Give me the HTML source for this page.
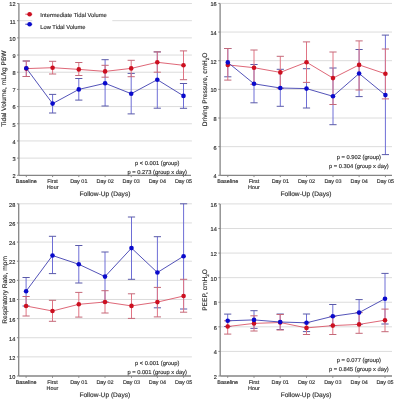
<!DOCTYPE html>
<html><head><meta charset="utf-8"><style>
html,body{margin:0;padding:0;background:#fff;}
svg{display:block;will-change:transform;filter:blur(0.3px);}
text{text-rendering:geometricPrecision;font-family:"Liberation Sans", sans-serif;fill:#2e2e2e;stroke:#2e2e2e;stroke-width:0.15px;}
</style></head><body>
<svg width="395" height="400" viewBox="0 0 395 400">
<rect width="395" height="400" fill="#fff"/>
<line x1="18.9" y1="3.5" x2="191.9" y2="3.5" stroke="#dcdcdc" stroke-width="1"/>
<line x1="18.9" y1="20.68" x2="191.9" y2="20.68" stroke="#dcdcdc" stroke-width="1"/>
<line x1="18.9" y1="37.86" x2="191.9" y2="37.86" stroke="#dcdcdc" stroke-width="1"/>
<line x1="18.9" y1="55.04" x2="191.9" y2="55.04" stroke="#dcdcdc" stroke-width="1"/>
<line x1="18.9" y1="72.22" x2="191.9" y2="72.22" stroke="#dcdcdc" stroke-width="1"/>
<line x1="18.9" y1="89.4" x2="191.9" y2="89.4" stroke="#dcdcdc" stroke-width="1"/>
<line x1="18.9" y1="106.58" x2="191.9" y2="106.58" stroke="#dcdcdc" stroke-width="1"/>
<line x1="18.9" y1="123.76" x2="191.9" y2="123.76" stroke="#dcdcdc" stroke-width="1"/>
<line x1="18.9" y1="140.94" x2="191.9" y2="140.94" stroke="#dcdcdc" stroke-width="1"/>
<line x1="18.9" y1="158.12" x2="191.9" y2="158.12" stroke="#dcdcdc" stroke-width="1"/>
<line x1="17.1" y1="3.5" x2="18.9" y2="3.5" stroke="#858585" stroke-width="1"/>
<text x="15.5" y="6.4" text-anchor="end" font-size="5.6">12</text>
<line x1="17.1" y1="20.68" x2="18.9" y2="20.68" stroke="#858585" stroke-width="1"/>
<text x="15.5" y="23.58" text-anchor="end" font-size="5.6">11</text>
<line x1="17.1" y1="37.86" x2="18.9" y2="37.86" stroke="#858585" stroke-width="1"/>
<text x="15.5" y="40.76" text-anchor="end" font-size="5.6">10</text>
<line x1="17.1" y1="55.04" x2="18.9" y2="55.04" stroke="#858585" stroke-width="1"/>
<text x="15.5" y="57.94" text-anchor="end" font-size="5.6">9</text>
<line x1="17.1" y1="72.22" x2="18.9" y2="72.22" stroke="#858585" stroke-width="1"/>
<text x="15.5" y="75.12" text-anchor="end" font-size="5.6">8</text>
<line x1="17.1" y1="89.4" x2="18.9" y2="89.4" stroke="#858585" stroke-width="1"/>
<text x="15.5" y="92.3" text-anchor="end" font-size="5.6">7</text>
<line x1="17.1" y1="106.58" x2="18.9" y2="106.58" stroke="#858585" stroke-width="1"/>
<text x="15.5" y="109.48" text-anchor="end" font-size="5.6">6</text>
<line x1="17.1" y1="123.76" x2="18.9" y2="123.76" stroke="#858585" stroke-width="1"/>
<text x="15.5" y="126.66" text-anchor="end" font-size="5.6">5</text>
<line x1="17.1" y1="140.94" x2="18.9" y2="140.94" stroke="#858585" stroke-width="1"/>
<text x="15.5" y="143.84" text-anchor="end" font-size="5.6">4</text>
<line x1="17.1" y1="158.12" x2="18.9" y2="158.12" stroke="#858585" stroke-width="1"/>
<text x="15.5" y="161.02" text-anchor="end" font-size="5.6">3</text>
<line x1="17.1" y1="175.3" x2="18.9" y2="175.3" stroke="#858585" stroke-width="1"/>
<text x="15.5" y="178.2" text-anchor="end" font-size="5.6">2</text>
<line x1="18.9" y1="3.5" x2="18.9" y2="175.3" stroke="#858585" stroke-width="1.3"/>
<line x1="18.9" y1="175.3" x2="191" y2="175.3" stroke="#858585" stroke-width="1.3"/>
<line x1="26.3" y1="175.3" x2="26.3" y2="177.1" stroke="#858585" stroke-width="1"/>
<text x="26.3" y="183.2" text-anchor="middle" font-size="5.45">Baseline</text>
<line x1="52.6" y1="175.3" x2="52.6" y2="177.1" stroke="#858585" stroke-width="1"/>
<text x="52.6" y="183.2" text-anchor="middle" font-size="5.45">First</text>
<text x="52.6" y="189.1" text-anchor="middle" font-size="5.45">Hour</text>
<line x1="78.8" y1="175.3" x2="78.8" y2="177.1" stroke="#858585" stroke-width="1"/>
<text x="78.8" y="183.2" text-anchor="middle" font-size="5.45">Day 01</text>
<line x1="105.1" y1="175.3" x2="105.1" y2="177.1" stroke="#858585" stroke-width="1"/>
<text x="105.1" y="183.2" text-anchor="middle" font-size="5.45">Day 02</text>
<line x1="131.2" y1="175.3" x2="131.2" y2="177.1" stroke="#858585" stroke-width="1"/>
<text x="131.2" y="183.2" text-anchor="middle" font-size="5.45">Day 03</text>
<line x1="157.3" y1="175.3" x2="157.3" y2="177.1" stroke="#858585" stroke-width="1"/>
<text x="157.3" y="183.2" text-anchor="middle" font-size="5.45">Day 04</text>
<line x1="183.5" y1="175.3" x2="183.5" y2="177.1" stroke="#858585" stroke-width="1"/>
<text x="183.5" y="183.2" text-anchor="middle" font-size="5.45">Day 05</text>
<text x="104.95" y="196.4" text-anchor="middle" font-size="6.6">Follow-Up (Days)</text>
<text transform="translate(5.9,88.6) rotate(-90)" x="0" y="0" text-anchor="middle" font-size="6.6">Tidal Volume, mL/kg PBW</text>
<text x="157.2" y="165.3" text-anchor="middle" font-size="5.75">p &lt; 0.001 (group)</text>
<text x="157.2" y="173.8" text-anchor="middle" font-size="5.75">p = 0.273 (group x day)</text>
<rect x="32.3" y="8" width="80" height="24" fill="#fff"/>
<line x1="25.3" y1="14.2" x2="32.3" y2="14.2" stroke="#da5668" stroke-width="1"/>
<circle cx="29.6" cy="14.2" r="2.3" fill="#cc1020"/>
<text x="40.3" y="17.3" font-size="5.75">Intermediate Tidal Volume</text>
<line x1="25.3" y1="24.2" x2="32.3" y2="24.2" stroke="#4040b0" stroke-width="1"/>
<circle cx="29.6" cy="24.2" r="2.3" fill="#0a0acc"/>
<text x="40.3" y="28.8" font-size="5.75">Low Tidal Volume</text>
<path d="M26.3 61V76.5" stroke="#6e6ed6" stroke-width="1.0" fill="none"/>
<path d="M22.7 61H29.9M22.7 76.5H29.9" stroke="#5a5aa8" stroke-width="1.0" fill="none"/>
<path d="M52.6 94.4V113" stroke="#6e6ed6" stroke-width="1.0" fill="none"/>
<path d="M49 94.4H56.2M49 113H56.2" stroke="#5a5aa8" stroke-width="1.0" fill="none"/>
<path d="M78.8 78.5V100.1" stroke="#6e6ed6" stroke-width="1.0" fill="none"/>
<path d="M75.2 78.5H82.4M75.2 100.1H82.4" stroke="#5a5aa8" stroke-width="1.0" fill="none"/>
<path d="M105.1 59.7V106" stroke="#6e6ed6" stroke-width="1.0" fill="none"/>
<path d="M101.5 59.7H108.7M101.5 106H108.7" stroke="#5a5aa8" stroke-width="1.0" fill="none"/>
<path d="M131.2 73.4V113.9" stroke="#6e6ed6" stroke-width="1.0" fill="none"/>
<path d="M127.6 73.4H134.8M127.6 113.9H134.8" stroke="#5a5aa8" stroke-width="1.0" fill="none"/>
<path d="M157.3 51.9V108.2" stroke="#6e6ed6" stroke-width="1.0" fill="none"/>
<path d="M153.7 51.9H160.9M153.7 108.2H160.9" stroke="#5a5aa8" stroke-width="1.0" fill="none"/>
<path d="M183.5 83.5V108.3" stroke="#6e6ed6" stroke-width="1.0" fill="none"/>
<path d="M179.9 83.5H187.1M179.9 108.3H187.1" stroke="#5a5aa8" stroke-width="1.0" fill="none"/>
<path d="M26.3 61V76.5" stroke="#e07484" stroke-width="1.0" fill="none"/>
<path d="M22.7 61H29.9M22.7 76.5H29.9" stroke="#c46878" stroke-width="1.0" fill="none"/>
<path d="M52.6 61.3V74" stroke="#e07484" stroke-width="1.0" fill="none"/>
<path d="M49 61.3H56.2M49 74H56.2" stroke="#c46878" stroke-width="1.0" fill="none"/>
<path d="M78.8 62.5V75.5" stroke="#e07484" stroke-width="1.0" fill="none"/>
<path d="M75.2 62.5H82.4M75.2 75.5H82.4" stroke="#c46878" stroke-width="1.0" fill="none"/>
<path d="M105.1 65.3V77.2" stroke="#e07484" stroke-width="1.0" fill="none"/>
<path d="M101.5 65.3H108.7M101.5 77.2H108.7" stroke="#c46878" stroke-width="1.0" fill="none"/>
<path d="M131.2 60.3V76.7" stroke="#e07484" stroke-width="1.0" fill="none"/>
<path d="M127.6 60.3H134.8M127.6 76.7H134.8" stroke="#c46878" stroke-width="1.0" fill="none"/>
<path d="M157.3 51.9V72.2" stroke="#e07484" stroke-width="1.0" fill="none"/>
<path d="M153.7 51.9H160.9M153.7 72.2H160.9" stroke="#c46878" stroke-width="1.0" fill="none"/>
<path d="M183.5 50.9V79.7" stroke="#e07484" stroke-width="1.0" fill="none"/>
<path d="M179.9 50.9H187.1M179.9 79.7H187.1" stroke="#c46878" stroke-width="1.0" fill="none"/>
<polyline points="26.3,68.6 52.6,67.7 78.8,69.4 105.1,71.4 131.2,68.4 157.3,62.3 183.5,65.3" stroke="#da5668" stroke-width="0.9" fill="none"/>
<polyline points="26.3,68.2 52.6,103.6 78.8,89.4 105.1,83.3 131.2,93.7 157.3,79.7 183.5,95.9" stroke="#4040b0" stroke-width="0.9" fill="none"/>
<circle cx="26.3" cy="68.6" r="2.3" fill="#cc1020"/>
<circle cx="52.6" cy="67.7" r="2.3" fill="#cc1020"/>
<circle cx="78.8" cy="69.4" r="2.3" fill="#cc1020"/>
<circle cx="105.1" cy="71.4" r="2.3" fill="#cc1020"/>
<circle cx="131.2" cy="68.4" r="2.3" fill="#cc1020"/>
<circle cx="157.3" cy="62.3" r="2.3" fill="#cc1020"/>
<circle cx="183.5" cy="65.3" r="2.3" fill="#cc1020"/>
<circle cx="26.3" cy="68.2" r="2.3" fill="#0a0acc"/>
<circle cx="52.6" cy="103.6" r="2.3" fill="#0a0acc"/>
<circle cx="78.8" cy="89.4" r="2.3" fill="#0a0acc"/>
<circle cx="105.1" cy="83.3" r="2.3" fill="#0a0acc"/>
<circle cx="131.2" cy="93.7" r="2.3" fill="#0a0acc"/>
<circle cx="157.3" cy="79.7" r="2.3" fill="#0a0acc"/>
<circle cx="183.5" cy="95.9" r="2.3" fill="#0a0acc"/>
<line x1="220.1" y1="3.4" x2="392" y2="3.4" stroke="#dcdcdc" stroke-width="1"/>
<line x1="220.1" y1="32.05" x2="392" y2="32.05" stroke="#dcdcdc" stroke-width="1"/>
<line x1="220.1" y1="60.7" x2="392" y2="60.7" stroke="#dcdcdc" stroke-width="1"/>
<line x1="220.1" y1="89.35" x2="392" y2="89.35" stroke="#dcdcdc" stroke-width="1"/>
<line x1="220.1" y1="118" x2="392" y2="118" stroke="#dcdcdc" stroke-width="1"/>
<line x1="220.1" y1="146.65" x2="392" y2="146.65" stroke="#dcdcdc" stroke-width="1"/>
<line x1="218.3" y1="3.4" x2="220.1" y2="3.4" stroke="#858585" stroke-width="1"/>
<text x="216.7" y="6.3" text-anchor="end" font-size="5.6">16</text>
<line x1="218.3" y1="32.05" x2="220.1" y2="32.05" stroke="#858585" stroke-width="1"/>
<text x="216.7" y="34.95" text-anchor="end" font-size="5.6">14</text>
<line x1="218.3" y1="60.7" x2="220.1" y2="60.7" stroke="#858585" stroke-width="1"/>
<text x="216.7" y="63.6" text-anchor="end" font-size="5.6">12</text>
<line x1="218.3" y1="89.35" x2="220.1" y2="89.35" stroke="#858585" stroke-width="1"/>
<text x="216.7" y="92.25" text-anchor="end" font-size="5.6">10</text>
<line x1="218.3" y1="118" x2="220.1" y2="118" stroke="#858585" stroke-width="1"/>
<text x="216.7" y="120.9" text-anchor="end" font-size="5.6">8</text>
<line x1="218.3" y1="146.65" x2="220.1" y2="146.65" stroke="#858585" stroke-width="1"/>
<text x="216.7" y="149.55" text-anchor="end" font-size="5.6">6</text>
<line x1="218.3" y1="175.3" x2="220.1" y2="175.3" stroke="#858585" stroke-width="1"/>
<text x="216.7" y="178.2" text-anchor="end" font-size="5.6">4</text>
<line x1="220.1" y1="3.4" x2="220.1" y2="175.3" stroke="#858585" stroke-width="1.3"/>
<line x1="220.1" y1="175.3" x2="392" y2="175.3" stroke="#858585" stroke-width="1.3"/>
<line x1="227.8" y1="175.3" x2="227.8" y2="177.1" stroke="#858585" stroke-width="1"/>
<text x="227.8" y="183.2" text-anchor="middle" font-size="5.45">Baseline</text>
<line x1="254" y1="175.3" x2="254" y2="177.1" stroke="#858585" stroke-width="1"/>
<text x="254" y="183.2" text-anchor="middle" font-size="5.45">First</text>
<text x="254" y="189.1" text-anchor="middle" font-size="5.45">Hour</text>
<line x1="280.3" y1="175.3" x2="280.3" y2="177.1" stroke="#858585" stroke-width="1"/>
<text x="280.3" y="183.2" text-anchor="middle" font-size="5.45">Day 01</text>
<line x1="306.5" y1="175.3" x2="306.5" y2="177.1" stroke="#858585" stroke-width="1"/>
<text x="306.5" y="183.2" text-anchor="middle" font-size="5.45">Day 02</text>
<line x1="333" y1="175.3" x2="333" y2="177.1" stroke="#858585" stroke-width="1"/>
<text x="333" y="183.2" text-anchor="middle" font-size="5.45">Day 03</text>
<line x1="359.1" y1="175.3" x2="359.1" y2="177.1" stroke="#858585" stroke-width="1"/>
<text x="359.1" y="183.2" text-anchor="middle" font-size="5.45">Day 04</text>
<line x1="385.4" y1="175.3" x2="385.4" y2="177.1" stroke="#858585" stroke-width="1"/>
<text x="385.4" y="183.2" text-anchor="middle" font-size="5.45">Day 05</text>
<text x="306.05" y="196.4" text-anchor="middle" font-size="6.6">Follow-Up (Days)</text>
<text transform="translate(207.2,89.35) rotate(-90)" x="0" y="0" text-anchor="middle" font-size="6.6">Driving Pressure, cmH<tspan dy="1.3" font-size="4.6">2</tspan><tspan dy="-1.3">O</tspan></text>
<text x="358.9" y="159.3" text-anchor="middle" font-size="5.75">p = 0.902 (group)</text>
<text x="358.9" y="168" text-anchor="middle" font-size="5.75">p = 0.304 (group x day)</text>
<path d="M227.8 48.5V76.8" stroke="#6e6ed6" stroke-width="1.0" fill="none"/>
<path d="M224.2 48.5H231.4M224.2 76.8H231.4" stroke="#5a5aa8" stroke-width="1.0" fill="none"/>
<path d="M254 64.5V102.8" stroke="#6e6ed6" stroke-width="1.0" fill="none"/>
<path d="M250.4 64.5H257.6M250.4 102.8H257.6" stroke="#5a5aa8" stroke-width="1.0" fill="none"/>
<path d="M280.3 69.3V106.3" stroke="#6e6ed6" stroke-width="1.0" fill="none"/>
<path d="M276.7 69.3H283.9M276.7 106.3H283.9" stroke="#5a5aa8" stroke-width="1.0" fill="none"/>
<path d="M306.5 68.7V108" stroke="#6e6ed6" stroke-width="1.0" fill="none"/>
<path d="M302.9 68.7H310.1M302.9 108H310.1" stroke="#5a5aa8" stroke-width="1.0" fill="none"/>
<path d="M333 68V124.7" stroke="#6e6ed6" stroke-width="1.0" fill="none"/>
<path d="M329.4 68H336.6M329.4 124.7H336.6" stroke="#5a5aa8" stroke-width="1.0" fill="none"/>
<path d="M359.1 49.5V96.6" stroke="#6e6ed6" stroke-width="1.0" fill="none"/>
<path d="M355.5 49.5H362.7M355.5 96.6H362.7" stroke="#5a5aa8" stroke-width="1.0" fill="none"/>
<path d="M385.4 35.1V154.6" stroke="#6e6ed6" stroke-width="1.0" fill="none"/>
<path d="M381.8 35.1H389M381.8 154.6H389" stroke="#5a5aa8" stroke-width="1.0" fill="none"/>
<path d="M227.8 48.5V80.1" stroke="#e07484" stroke-width="1.0" fill="none"/>
<path d="M224.2 48.5H231.4M224.2 80.1H231.4" stroke="#c46878" stroke-width="1.0" fill="none"/>
<path d="M254 50V84.3" stroke="#e07484" stroke-width="1.0" fill="none"/>
<path d="M250.4 50H257.6M250.4 84.3H257.6" stroke="#c46878" stroke-width="1.0" fill="none"/>
<path d="M280.3 56.3V88.3" stroke="#e07484" stroke-width="1.0" fill="none"/>
<path d="M276.7 56.3H283.9M276.7 88.3H283.9" stroke="#c46878" stroke-width="1.0" fill="none"/>
<path d="M306.5 41.9V82.4" stroke="#e07484" stroke-width="1.0" fill="none"/>
<path d="M302.9 41.9H310.1M302.9 82.4H310.1" stroke="#c46878" stroke-width="1.0" fill="none"/>
<path d="M333 52V104.5" stroke="#e07484" stroke-width="1.0" fill="none"/>
<path d="M329.4 52H336.6M329.4 104.5H336.6" stroke="#c46878" stroke-width="1.0" fill="none"/>
<path d="M359.1 40.9V90" stroke="#e07484" stroke-width="1.0" fill="none"/>
<path d="M355.5 40.9H362.7M355.5 90H362.7" stroke="#c46878" stroke-width="1.0" fill="none"/>
<path d="M385.4 49V98.9" stroke="#e07484" stroke-width="1.0" fill="none"/>
<path d="M381.8 49H389M381.8 98.9H389" stroke="#c46878" stroke-width="1.0" fill="none"/>
<polyline points="227.8,64.9 254,67.7 280.3,72.4 306.5,62.2 333,78.1 359.1,64.9 385.4,73.8" stroke="#da5668" stroke-width="0.9" fill="none"/>
<polyline points="227.8,62.4 254,83.8 280.3,88 306.5,88.6 333,96.3 359.1,73.5 385.4,95.1" stroke="#4040b0" stroke-width="0.9" fill="none"/>
<circle cx="227.8" cy="64.9" r="2.3" fill="#cc1020"/>
<circle cx="254" cy="67.7" r="2.3" fill="#cc1020"/>
<circle cx="280.3" cy="72.4" r="2.3" fill="#cc1020"/>
<circle cx="306.5" cy="62.2" r="2.3" fill="#cc1020"/>
<circle cx="333" cy="78.1" r="2.3" fill="#cc1020"/>
<circle cx="359.1" cy="64.9" r="2.3" fill="#cc1020"/>
<circle cx="385.4" cy="73.8" r="2.3" fill="#cc1020"/>
<circle cx="227.8" cy="62.4" r="2.3" fill="#0a0acc"/>
<circle cx="254" cy="83.8" r="2.3" fill="#0a0acc"/>
<circle cx="280.3" cy="88" r="2.3" fill="#0a0acc"/>
<circle cx="306.5" cy="88.6" r="2.3" fill="#0a0acc"/>
<circle cx="333" cy="96.3" r="2.3" fill="#0a0acc"/>
<circle cx="359.1" cy="73.5" r="2.3" fill="#0a0acc"/>
<circle cx="385.4" cy="95.1" r="2.3" fill="#0a0acc"/>
<line x1="18.7" y1="203.8" x2="191.9" y2="203.8" stroke="#dcdcdc" stroke-width="1"/>
<line x1="18.7" y1="222.93" x2="191.9" y2="222.93" stroke="#dcdcdc" stroke-width="1"/>
<line x1="18.7" y1="242.07" x2="191.9" y2="242.07" stroke="#dcdcdc" stroke-width="1"/>
<line x1="18.7" y1="261.2" x2="191.9" y2="261.2" stroke="#dcdcdc" stroke-width="1"/>
<line x1="18.7" y1="280.33" x2="191.9" y2="280.33" stroke="#dcdcdc" stroke-width="1"/>
<line x1="18.7" y1="299.47" x2="191.9" y2="299.47" stroke="#dcdcdc" stroke-width="1"/>
<line x1="18.7" y1="318.6" x2="191.9" y2="318.6" stroke="#dcdcdc" stroke-width="1"/>
<line x1="18.7" y1="337.73" x2="191.9" y2="337.73" stroke="#dcdcdc" stroke-width="1"/>
<line x1="18.7" y1="356.87" x2="191.9" y2="356.87" stroke="#dcdcdc" stroke-width="1"/>
<line x1="16.9" y1="203.8" x2="18.7" y2="203.8" stroke="#858585" stroke-width="1"/>
<text x="15.3" y="206.7" text-anchor="end" font-size="5.6">28</text>
<line x1="16.9" y1="222.93" x2="18.7" y2="222.93" stroke="#858585" stroke-width="1"/>
<text x="15.3" y="225.83" text-anchor="end" font-size="5.6">26</text>
<line x1="16.9" y1="242.07" x2="18.7" y2="242.07" stroke="#858585" stroke-width="1"/>
<text x="15.3" y="244.97" text-anchor="end" font-size="5.6">24</text>
<line x1="16.9" y1="261.2" x2="18.7" y2="261.2" stroke="#858585" stroke-width="1"/>
<text x="15.3" y="264.1" text-anchor="end" font-size="5.6">22</text>
<line x1="16.9" y1="280.33" x2="18.7" y2="280.33" stroke="#858585" stroke-width="1"/>
<text x="15.3" y="283.23" text-anchor="end" font-size="5.6">20</text>
<line x1="16.9" y1="299.47" x2="18.7" y2="299.47" stroke="#858585" stroke-width="1"/>
<text x="15.3" y="302.37" text-anchor="end" font-size="5.6">18</text>
<line x1="16.9" y1="318.6" x2="18.7" y2="318.6" stroke="#858585" stroke-width="1"/>
<text x="15.3" y="321.5" text-anchor="end" font-size="5.6">16</text>
<line x1="16.9" y1="337.73" x2="18.7" y2="337.73" stroke="#858585" stroke-width="1"/>
<text x="15.3" y="340.63" text-anchor="end" font-size="5.6">14</text>
<line x1="16.9" y1="356.87" x2="18.7" y2="356.87" stroke="#858585" stroke-width="1"/>
<text x="15.3" y="359.77" text-anchor="end" font-size="5.6">12</text>
<line x1="16.9" y1="376" x2="18.7" y2="376" stroke="#858585" stroke-width="1"/>
<text x="15.3" y="378.9" text-anchor="end" font-size="5.6">10</text>
<line x1="18.7" y1="203.8" x2="18.7" y2="376" stroke="#858585" stroke-width="1.3"/>
<line x1="18.7" y1="376" x2="191" y2="376" stroke="#858585" stroke-width="1.3"/>
<line x1="26.1" y1="376" x2="26.1" y2="377.8" stroke="#858585" stroke-width="1"/>
<text x="26.1" y="383.9" text-anchor="middle" font-size="5.45">Baseline</text>
<line x1="52.5" y1="376" x2="52.5" y2="377.8" stroke="#858585" stroke-width="1"/>
<text x="52.5" y="383.9" text-anchor="middle" font-size="5.45">First</text>
<text x="52.5" y="389.8" text-anchor="middle" font-size="5.45">Hour</text>
<line x1="78.8" y1="376" x2="78.8" y2="377.8" stroke="#858585" stroke-width="1"/>
<text x="78.8" y="383.9" text-anchor="middle" font-size="5.45">Day 01</text>
<line x1="105" y1="376" x2="105" y2="377.8" stroke="#858585" stroke-width="1"/>
<text x="105" y="383.9" text-anchor="middle" font-size="5.45">Day 02</text>
<line x1="131.5" y1="376" x2="131.5" y2="377.8" stroke="#858585" stroke-width="1"/>
<text x="131.5" y="383.9" text-anchor="middle" font-size="5.45">Day 03</text>
<line x1="157.4" y1="376" x2="157.4" y2="377.8" stroke="#858585" stroke-width="1"/>
<text x="157.4" y="383.9" text-anchor="middle" font-size="5.45">Day 04</text>
<line x1="183.6" y1="376" x2="183.6" y2="377.8" stroke="#858585" stroke-width="1"/>
<text x="183.6" y="383.9" text-anchor="middle" font-size="5.45">Day 05</text>
<text x="104.85" y="397.1" text-anchor="middle" font-size="6.6">Follow-Up (Days)</text>
<text transform="translate(7.2,289.9) rotate(-90)" x="0" y="0" text-anchor="middle" font-size="6.6">Respiratory Rate, mpm</text>
<text x="157.2" y="365" text-anchor="middle" font-size="5.75">p &lt; 0.001 (group)</text>
<text x="157.2" y="373.7" text-anchor="middle" font-size="5.75">p = 0.001 (group x day)</text>
<path d="M26.1 277.5V306" stroke="#6e6ed6" stroke-width="1.0" fill="none"/>
<path d="M22.5 277.5H29.7M22.5 306H29.7" stroke="#5a5aa8" stroke-width="1.0" fill="none"/>
<path d="M52.5 236.3V273.6" stroke="#6e6ed6" stroke-width="1.0" fill="none"/>
<path d="M48.9 236.3H56.1M48.9 273.6H56.1" stroke="#5a5aa8" stroke-width="1.0" fill="none"/>
<path d="M78.8 245.5V283" stroke="#6e6ed6" stroke-width="1.0" fill="none"/>
<path d="M75.2 245.5H82.4M75.2 283H82.4" stroke="#5a5aa8" stroke-width="1.0" fill="none"/>
<path d="M105 252V302" stroke="#6e6ed6" stroke-width="1.0" fill="none"/>
<path d="M101.4 252H108.6M101.4 302H108.6" stroke="#5a5aa8" stroke-width="1.0" fill="none"/>
<path d="M131.5 217V279.3" stroke="#6e6ed6" stroke-width="1.0" fill="none"/>
<path d="M127.9 217H135.1M127.9 279.3H135.1" stroke="#5a5aa8" stroke-width="1.0" fill="none"/>
<path d="M157.4 236.7V307.8" stroke="#6e6ed6" stroke-width="1.0" fill="none"/>
<path d="M153.8 236.7H161M153.8 307.8H161" stroke="#5a5aa8" stroke-width="1.0" fill="none"/>
<path d="M183.6 203.8V309" stroke="#6e6ed6" stroke-width="1.0" fill="none"/>
<path d="M180 203.8H187.2M180 309H187.2" stroke="#5a5aa8" stroke-width="1.0" fill="none"/>
<path d="M26.1 296.5V316" stroke="#e07484" stroke-width="1.0" fill="none"/>
<path d="M22.5 296.5H29.7M22.5 316H29.7" stroke="#c46878" stroke-width="1.0" fill="none"/>
<path d="M52.5 300.3V321.3" stroke="#e07484" stroke-width="1.0" fill="none"/>
<path d="M48.9 300.3H56.1M48.9 321.3H56.1" stroke="#c46878" stroke-width="1.0" fill="none"/>
<path d="M78.8 292.4V317.1" stroke="#e07484" stroke-width="1.0" fill="none"/>
<path d="M75.2 292.4H82.4M75.2 317.1H82.4" stroke="#c46878" stroke-width="1.0" fill="none"/>
<path d="M105 290.7V313" stroke="#e07484" stroke-width="1.0" fill="none"/>
<path d="M101.4 290.7H108.6M101.4 313H108.6" stroke="#c46878" stroke-width="1.0" fill="none"/>
<path d="M131.5 293.8V318.4" stroke="#e07484" stroke-width="1.0" fill="none"/>
<path d="M127.9 293.8H135.1M127.9 318.4H135.1" stroke="#c46878" stroke-width="1.0" fill="none"/>
<path d="M157.4 287.4V316.9" stroke="#e07484" stroke-width="1.0" fill="none"/>
<path d="M153.8 287.4H161M153.8 316.9H161" stroke="#c46878" stroke-width="1.0" fill="none"/>
<path d="M183.6 279.3V312.2" stroke="#e07484" stroke-width="1.0" fill="none"/>
<path d="M180 279.3H187.2M180 312.2H187.2" stroke="#c46878" stroke-width="1.0" fill="none"/>
<polyline points="26.1,306 52.5,311 78.8,304.3 105,302 131.5,305.9 157.4,302.1 183.6,296" stroke="#da5668" stroke-width="0.9" fill="none"/>
<polyline points="26.1,291.2 52.5,255.5 78.8,264.3 105,276.6 131.5,248.1 157.4,272.5 183.6,256.2" stroke="#4040b0" stroke-width="0.9" fill="none"/>
<circle cx="26.1" cy="306" r="2.3" fill="#cc1020"/>
<circle cx="52.5" cy="311" r="2.3" fill="#cc1020"/>
<circle cx="78.8" cy="304.3" r="2.3" fill="#cc1020"/>
<circle cx="105" cy="302" r="2.3" fill="#cc1020"/>
<circle cx="131.5" cy="305.9" r="2.3" fill="#cc1020"/>
<circle cx="157.4" cy="302.1" r="2.3" fill="#cc1020"/>
<circle cx="183.6" cy="296" r="2.3" fill="#cc1020"/>
<circle cx="26.1" cy="291.2" r="2.3" fill="#0a0acc"/>
<circle cx="52.5" cy="255.5" r="2.3" fill="#0a0acc"/>
<circle cx="78.8" cy="264.3" r="2.3" fill="#0a0acc"/>
<circle cx="105" cy="276.6" r="2.3" fill="#0a0acc"/>
<circle cx="131.5" cy="248.1" r="2.3" fill="#0a0acc"/>
<circle cx="157.4" cy="272.5" r="2.3" fill="#0a0acc"/>
<circle cx="183.6" cy="256.2" r="2.3" fill="#0a0acc"/>
<line x1="220.2" y1="203.9" x2="392" y2="203.9" stroke="#dcdcdc" stroke-width="1"/>
<line x1="220.2" y1="228.49" x2="392" y2="228.49" stroke="#dcdcdc" stroke-width="1"/>
<line x1="220.2" y1="253.07" x2="392" y2="253.07" stroke="#dcdcdc" stroke-width="1"/>
<line x1="220.2" y1="277.66" x2="392" y2="277.66" stroke="#dcdcdc" stroke-width="1"/>
<line x1="220.2" y1="302.24" x2="392" y2="302.24" stroke="#dcdcdc" stroke-width="1"/>
<line x1="220.2" y1="326.83" x2="392" y2="326.83" stroke="#dcdcdc" stroke-width="1"/>
<line x1="220.2" y1="351.41" x2="392" y2="351.41" stroke="#dcdcdc" stroke-width="1"/>
<line x1="218.4" y1="203.9" x2="220.2" y2="203.9" stroke="#858585" stroke-width="1"/>
<text x="216.8" y="206.8" text-anchor="end" font-size="5.6">16</text>
<line x1="218.4" y1="228.49" x2="220.2" y2="228.49" stroke="#858585" stroke-width="1"/>
<text x="216.8" y="231.39" text-anchor="end" font-size="5.6">14</text>
<line x1="218.4" y1="253.07" x2="220.2" y2="253.07" stroke="#858585" stroke-width="1"/>
<text x="216.8" y="255.97" text-anchor="end" font-size="5.6">12</text>
<line x1="218.4" y1="277.66" x2="220.2" y2="277.66" stroke="#858585" stroke-width="1"/>
<text x="216.8" y="280.56" text-anchor="end" font-size="5.6">10</text>
<line x1="218.4" y1="302.24" x2="220.2" y2="302.24" stroke="#858585" stroke-width="1"/>
<text x="216.8" y="305.14" text-anchor="end" font-size="5.6">8</text>
<line x1="218.4" y1="326.83" x2="220.2" y2="326.83" stroke="#858585" stroke-width="1"/>
<text x="216.8" y="329.73" text-anchor="end" font-size="5.6">6</text>
<line x1="218.4" y1="351.41" x2="220.2" y2="351.41" stroke="#858585" stroke-width="1"/>
<text x="216.8" y="354.31" text-anchor="end" font-size="5.6">4</text>
<line x1="218.4" y1="376" x2="220.2" y2="376" stroke="#858585" stroke-width="1"/>
<text x="216.8" y="378.9" text-anchor="end" font-size="5.6">2</text>
<line x1="220.2" y1="203.9" x2="220.2" y2="376" stroke="#858585" stroke-width="1.3"/>
<line x1="220.2" y1="376" x2="392" y2="376" stroke="#858585" stroke-width="1.3"/>
<line x1="227.7" y1="376" x2="227.7" y2="377.8" stroke="#858585" stroke-width="1"/>
<text x="227.7" y="383.9" text-anchor="middle" font-size="5.45">Baseline</text>
<line x1="254" y1="376" x2="254" y2="377.8" stroke="#858585" stroke-width="1"/>
<text x="254" y="383.9" text-anchor="middle" font-size="5.45">First</text>
<text x="254" y="389.8" text-anchor="middle" font-size="5.45">Hour</text>
<line x1="280.2" y1="376" x2="280.2" y2="377.8" stroke="#858585" stroke-width="1"/>
<text x="280.2" y="383.9" text-anchor="middle" font-size="5.45">Day 01</text>
<line x1="306.5" y1="376" x2="306.5" y2="377.8" stroke="#858585" stroke-width="1"/>
<text x="306.5" y="383.9" text-anchor="middle" font-size="5.45">Day 02</text>
<line x1="332.8" y1="376" x2="332.8" y2="377.8" stroke="#858585" stroke-width="1"/>
<text x="332.8" y="383.9" text-anchor="middle" font-size="5.45">Day 03</text>
<line x1="359.1" y1="376" x2="359.1" y2="377.8" stroke="#858585" stroke-width="1"/>
<text x="359.1" y="383.9" text-anchor="middle" font-size="5.45">Day 04</text>
<line x1="385" y1="376" x2="385" y2="377.8" stroke="#858585" stroke-width="1"/>
<text x="385" y="383.9" text-anchor="middle" font-size="5.45">Day 05</text>
<text x="306.1" y="397.1" text-anchor="middle" font-size="6.6">Follow-Up (Days)</text>
<text transform="translate(207.2,289.95) rotate(-90)" x="0" y="0" text-anchor="middle" font-size="6.6">PEEP, cmH<tspan dy="1.3" font-size="4.6">2</tspan><tspan dy="-1.3">O</tspan></text>
<text x="358.9" y="362.2" text-anchor="middle" font-size="5.75">p = 0.077 (group)</text>
<text x="358.9" y="371" text-anchor="middle" font-size="5.75">p = 0.845 (group x day)</text>
<path d="M227.7 314.1V326.5" stroke="#6e6ed6" stroke-width="1.0" fill="none"/>
<path d="M224.1 314.1H231.3M224.1 326.5H231.3" stroke="#5a5aa8" stroke-width="1.0" fill="none"/>
<path d="M254 310.7V328.4" stroke="#6e6ed6" stroke-width="1.0" fill="none"/>
<path d="M250.4 310.7H257.6M250.4 328.4H257.6" stroke="#5a5aa8" stroke-width="1.0" fill="none"/>
<path d="M280.2 314V329.5" stroke="#6e6ed6" stroke-width="1.0" fill="none"/>
<path d="M276.6 314H283.8M276.6 329.5H283.8" stroke="#5a5aa8" stroke-width="1.0" fill="none"/>
<path d="M306.5 314V331.6" stroke="#6e6ed6" stroke-width="1.0" fill="none"/>
<path d="M302.9 314H310.1M302.9 331.6H310.1" stroke="#5a5aa8" stroke-width="1.0" fill="none"/>
<path d="M332.8 304.5V325.6" stroke="#6e6ed6" stroke-width="1.0" fill="none"/>
<path d="M329.2 304.5H336.4M329.2 325.6H336.4" stroke="#5a5aa8" stroke-width="1.0" fill="none"/>
<path d="M359.1 299.6V324.4" stroke="#6e6ed6" stroke-width="1.0" fill="none"/>
<path d="M355.5 299.6H362.7M355.5 324.4H362.7" stroke="#5a5aa8" stroke-width="1.0" fill="none"/>
<path d="M385 273.4V324" stroke="#6e6ed6" stroke-width="1.0" fill="none"/>
<path d="M381.4 273.4H388.6M381.4 324H388.6" stroke="#5a5aa8" stroke-width="1.0" fill="none"/>
<path d="M227.7 320.8V334.1" stroke="#e07484" stroke-width="1.0" fill="none"/>
<path d="M224.1 320.8H231.3M224.1 334.1H231.3" stroke="#c46878" stroke-width="1.0" fill="none"/>
<path d="M254 315.8V331" stroke="#e07484" stroke-width="1.0" fill="none"/>
<path d="M250.4 315.8H257.6M250.4 331H257.6" stroke="#c46878" stroke-width="1.0" fill="none"/>
<path d="M280.2 314.5V330" stroke="#e07484" stroke-width="1.0" fill="none"/>
<path d="M276.6 314.5H283.8M276.6 330H283.8" stroke="#c46878" stroke-width="1.0" fill="none"/>
<path d="M306.5 322.8V334.5" stroke="#e07484" stroke-width="1.0" fill="none"/>
<path d="M302.9 322.8H310.1M302.9 334.5H310.1" stroke="#c46878" stroke-width="1.0" fill="none"/>
<path d="M332.8 316.3V334.5" stroke="#e07484" stroke-width="1.0" fill="none"/>
<path d="M329.2 316.3H336.4M329.2 334.5H336.4" stroke="#c46878" stroke-width="1.0" fill="none"/>
<path d="M359.1 312.6V333.3" stroke="#e07484" stroke-width="1.0" fill="none"/>
<path d="M355.5 312.6H362.7M355.5 333.3H362.7" stroke="#c46878" stroke-width="1.0" fill="none"/>
<path d="M385 309.1V331.7" stroke="#e07484" stroke-width="1.0" fill="none"/>
<path d="M381.4 309.1H388.6M381.4 331.7H388.6" stroke="#c46878" stroke-width="1.0" fill="none"/>
<polyline points="227.7,326.5 254,323.4 280.2,322.5 306.5,327.9 332.8,325.6 359.1,324.4 385,320.2" stroke="#da5668" stroke-width="0.9" fill="none"/>
<polyline points="227.7,320.8 254,319.9 280.2,322 306.5,322.8 332.8,316.3 359.1,312.6 385,298.7" stroke="#4040b0" stroke-width="0.9" fill="none"/>
<circle cx="227.7" cy="326.5" r="2.3" fill="#cc1020"/>
<circle cx="254" cy="323.4" r="2.3" fill="#cc1020"/>
<circle cx="280.2" cy="322.5" r="2.3" fill="#cc1020"/>
<circle cx="306.5" cy="327.9" r="2.3" fill="#cc1020"/>
<circle cx="332.8" cy="325.6" r="2.3" fill="#cc1020"/>
<circle cx="359.1" cy="324.4" r="2.3" fill="#cc1020"/>
<circle cx="385" cy="320.2" r="2.3" fill="#cc1020"/>
<circle cx="227.7" cy="320.8" r="2.3" fill="#0a0acc"/>
<circle cx="254" cy="319.9" r="2.3" fill="#0a0acc"/>
<circle cx="280.2" cy="322" r="2.3" fill="#0a0acc"/>
<circle cx="306.5" cy="322.8" r="2.3" fill="#0a0acc"/>
<circle cx="332.8" cy="316.3" r="2.3" fill="#0a0acc"/>
<circle cx="359.1" cy="312.6" r="2.3" fill="#0a0acc"/>
<circle cx="385" cy="298.7" r="2.3" fill="#0a0acc"/>
</svg>
</body></html>
